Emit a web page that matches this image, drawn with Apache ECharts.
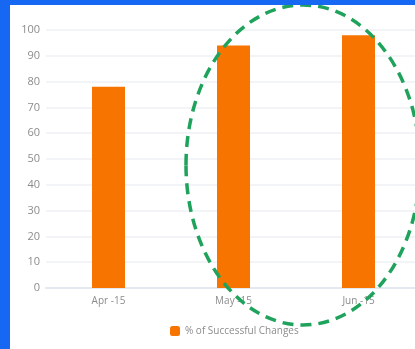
<!DOCTYPE html>
<html>
<head>
<meta charset="utf-8">
<script src="https://cdn.jsdelivr.net/npm/echarts@6/dist/echarts.min.js"></script>
<style>
  html, body { margin: 0; padding: 0; background: #fff; }
  #chart { width: 415px; height: 349px; }
</style>
</head>
<body>
<div id="chart"></div>
<script>
const months = ['Apr -15', 'May -15', 'Jun -15'];
const successPct = [78, 94, 98];
const seriesName = '% of Successful Changes';

const chart = echarts.init(document.getElementById('chart'));

chart.setOption({
  animation: false,
  backgroundColor: '#ffffff',
  textStyle: { fontFamily: 'Open Sans' },
  grid: { left: 46, top: 30, width: 375, height: 258, outerBoundsMode: 'none' },
  legend: {
    data: [seriesName],
    left: 165,
    top: 321,
    itemWidth: 10,
    itemHeight: 10,
    itemGap: 8,
    textStyle: { color: '#8c8c8c', fontSize: 10 }
  },
  xAxis: {
    type: 'category',
    data: months,
    axisLine: { lineStyle: { color: '#e3e9f1', width: 2 } },
    axisTick: { show: false },
    axisLabel: { color: '#8c8c8c', fontSize: 10, margin: 8 }
  },
  yAxis: {
    type: 'value',
    min: 0,
    max: 100,
    interval: 10,
    axisLine: { show: false },
    axisTick: { show: false },
    axisLabel: { color: '#8c8c8c', fontSize: 11, margin: 6 },
    splitLine: { lineStyle: { color: '#eef1f5', width: 1.5 } }
  },
  series: [{
    name: seriesName,
    type: 'bar',
    data: successPct,
    barWidth: 33,
    itemStyle: { color: '#f77400' }
  }],
  graphic: [
    { type: 'rect', shape: { x: 0, y: 0, width: 10, height: 349 }, style: { fill: '#1668f2' }, z: 100 },
    { type: 'rect', shape: { x: 0, y: 0, width: 415, height: 5 }, style: { fill: '#1668f2' }, z: 100 },
    {
      type: 'ellipse',
      shape: { cx: 303, cy: 165, rx: 117, ry: 160 },
      style: { fill: 'none', stroke: '#1fa35c', lineWidth: 3.5, lineDash: [11, 7] },
      z: 90
    }
  ]
});
</script>
</body>
</html>
